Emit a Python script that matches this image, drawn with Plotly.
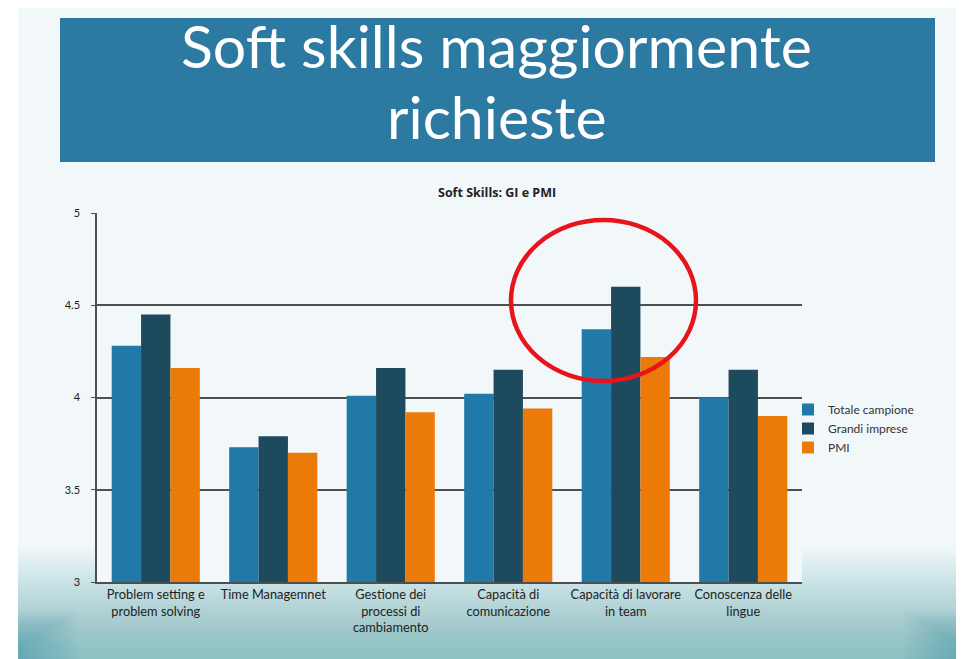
import plotly.graph_objects as go

categories = [
    "Problem setting e<br>problem solving",
    "Time Managemnet",
    "Gestione dei<br>processi di<br>cambiamento",
    "Capacità di<br>comunicazione",
    "Capacità di lavorare<br>in team",
    "Conoscenza delle<br>lingue",
]
totale_campione = [4.28, 3.73, 4.01, 4.02, 4.37, 4.00]
grandi_imprese = [4.45, 3.79, 4.16, 4.15, 4.60, 4.15]
pmi = [4.16, 3.70, 3.92, 3.94, 4.22, 3.90]

series_names = ["Totale campione", "Grandi imprese", "PMI"]
series_colors = ["#2179a8", "#1e4a5e", "#ec7a08"]
tick_vals = [3, 3.5, 4, 4.5, 5]
tick_text = ["3", "3.5", "4", "4.5", "5"]

W, H = 964, 659
OFF = 8  # page body margin
PL, PR, PT, PB = 97, 802, 213, 582  # plot area on page
L = PL - OFF
T = PT - OFF
R = W - (PR - OFF)
B = H - (PB - OFF)
pw, ph = PR - PL, PB - PT


def px(x):
    return (x - PL) / pw


def py(y):
    return (PB - y) / ph


fig = go.Figure()
for name, vals, col in zip(series_names, [totale_campione, grandi_imprese, pmi], series_colors):
    fig.add_trace(go.Bar(x=categories, y=vals, name=name, marker=dict(color=col, line=dict(width=0))))

shapes = []


def rect(x0, x1, y0, y1, color, opacity=1.0):
    shapes.append(dict(type="rect", xref="paper", yref="paper", x0=px(x0), x1=px(x1),
                       y0=py(y1), y1=py(y0), fillcolor=color, opacity=opacity,
                       line=dict(width=0), layer="below"))


# slide background
rect(18, 980, 7, 680, "#f2f7fa")
# bottom gradient bands (kept outside the plot area)
for i in range(32):
    y0 = 548 + i * 3.5
    if y0 < PB:
        rect(18, PL, y0, PB, "#3d8ea6", 0.02)
        rect(PR, 980, y0, PB, "#3d8ea6", 0.02)
        rect(18, 980, PB, 680, "#3d8ea6", 0.02)
    else:
        rect(18, 980, y0, 680, "#3d8ea6", 0.02)
# slightly darker corners
for i in range(12):
    rect(18, 18 + 5 * (12 - i), 610 + i * 3, 680, "#2f7f96", 0.03)
    rect(964 - 5 * (12 - i), 980, 610 + i * 3, 680, "#2f7f96", 0.03)
# title banner
rect(60, 935, 18, 162, "#2c79a2")

# red highlight ellipse
shapes.append(dict(type="circle", xref="paper", yref="paper", x0=px(511), x1=px(696), y0=py(381), y1=py(220),
                   line=dict(color="#e8141c", width=4.5), layer="above"))

title_font = dict(family="Lato, Open Sans, sans-serif", size=59, color="white")

fig.update_layout(
    width=W, height=H,
    margin=dict(l=L, r=R, t=T, b=B),
    paper_bgcolor="white",
    plot_bgcolor="#f8fbfd",
    barmode="group",
    bargap=0.25,
    bargroupgap=0,
    shapes=shapes,
    font=dict(family="Lato, Open Sans, sans-serif", color="#222222"),
    showlegend=True,
    legend=dict(x=px(788), xanchor="left", y=py(395), yanchor="top",
                bgcolor="rgba(0,0,0,0)", font=dict(size=12, color="#333333"),
                itemwidth=30, tracegroupgap=0),
    annotations=[
        dict(text="Soft skills maggiormente", xref="paper", yref="paper",
             x=px(496), y=py(45), xanchor="center", yanchor="middle", showarrow=False,
             font=title_font),
        dict(text="richieste", xref="paper", yref="paper",
             x=px(497), y=py(117), xanchor="center", yanchor="middle", showarrow=False,
             font=title_font),
        dict(text="<b>Soft Skills: GI e PMI</b>", xref="paper", yref="paper",
             x=px(497), y=py(192), xanchor="center", yanchor="middle", showarrow=False,
             font=dict(family="Open Sans, Lato, sans-serif", size=12.5, color="#222222")),
    ],
)
fig.update_yaxes(range=[3, 5], tickvals=tick_vals, ticktext=tick_text, showgrid=True,
                 gridcolor="#4f4f4f", gridwidth=1.5, showline=True, linecolor="#4f4f4f", linewidth=1.5,
                 ticks="outside", ticklen=4, tickcolor="#4f4f4f", zeroline=False,
                 tickfont=dict(size=11, color="#222222"), ticklabelstandoff=9)
fig.update_xaxes(showline=True, linecolor="#4f4f4f", linewidth=1.5, ticks="",
                 tickfont=dict(size=12.8, color="#222222"))

fig.write_html("out.html")
